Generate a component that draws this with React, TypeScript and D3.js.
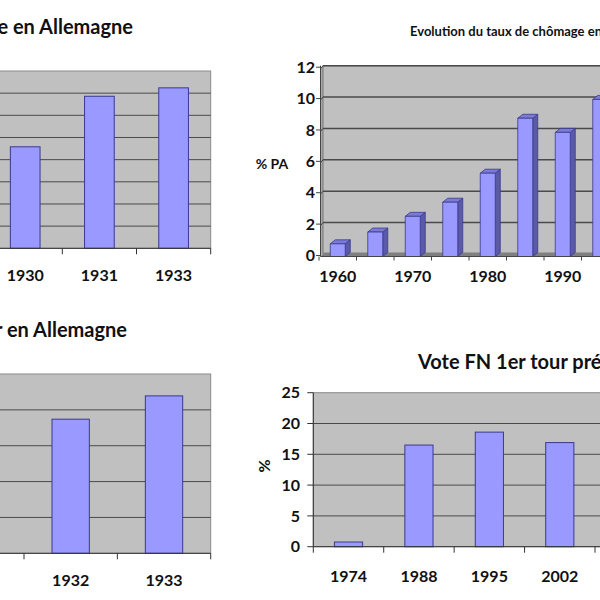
import React from "react";
import * as d3 from "d3";

// ---------- data ----------
const chomAllYears = ["1930", "1931", "1933"];
const chomAllValues = [22.9, 34.3, 36.2];
const chomAllTicks = [0, 5, 10, 15, 20, 25, 30, 35, 40];

const voteAllYears = ["1932", "1933"];
const voteAllValues = [37.4, 43.9];
const voteAllTicks = [0, 10, 20, 30, 40, 50];

const chomFrYears = ["1960", "1965", "1970", "1975", "1980", "1985", "1990", "1995"];
const chomFrValues = [0.65, 1.4, 2.4, 3.3, 5.15, 8.65, 7.75, 9.85];
const chomFrTicks = [0, 2, 4, 6, 8, 10, 12];
const chomFrLabels = ["1960", "1970", "1980", "1990"];

const fnYears = ["1974", "1988", "1995", "2002"];
const fnValues = [0.76, 16.5, 18.6, 16.9];
const fnTicks = [0, 5, 10, 15, 20, 25];

const FONT = "Lato, 'Open Sans', sans-serif";
const PLOT_BG = "#c0c0c0";
const GRID = "#4a4a4a";
const BAR = "#9999ff";
const BAR_STROKE = "#3a3a8f";
const TXT = "#111";
const LBL = 16;

type Flat = {
  cats: string[];
  vals: number[];
  ticks: number[];
  x0: number;
  x1: number;
  yTop: number;
  yBot: number;
  bgLeft: number;
  bgRight: number;
  labelY: number;
  yLabels?: { x: number };
};

function FlatChart(p: Flat) {
  const x = d3.scaleBand<string>().domain(p.cats).range([p.x0, p.x1]).padding(0);
  const maxT = p.ticks[p.ticks.length - 1];
  const y = d3.scaleLinear().domain([0, maxT]).range([p.yBot, p.yTop]);
  const bw = x.bandwidth() * 0.4;
  const bounds = d3.range(p.cats.length + 1).map((i) => p.x0 + i * x.bandwidth());
  return (
    <g>
      <rect x={p.bgLeft} y={p.yTop} width={p.bgRight - p.bgLeft} height={p.yBot - p.yTop} fill={PLOT_BG} stroke="#8a8a8a" strokeWidth={1} />
      {p.ticks.filter((t) => t > 0 && t < maxT).map((t) => (
        <line key={t} x1={p.bgLeft} x2={p.bgRight} y1={y(t)} y2={y(t)} stroke={GRID} strokeWidth={1} />
      ))}
      {p.cats.map((c, i) => (
        <rect key={c} x={x(c)! + (x.bandwidth() - bw) / 2} y={y(p.vals[i])} width={bw} height={p.yBot - y(p.vals[i])} fill={BAR} stroke={BAR_STROKE} strokeWidth={1} />
      ))}
      <line x1={p.bgLeft} x2={p.bgRight} y1={p.yBot} y2={p.yBot} stroke="#333" strokeWidth={1} />
      {bounds.map((b, i) => (
        <line key={i} x1={b} x2={b} y1={p.yBot} y2={p.yBot + 6} stroke="#333" strokeWidth={1} />
      ))}
      {p.yLabels && (
        <g>
          <line x1={p.x0} x2={p.x0} y1={p.yTop} y2={p.yBot} stroke="#333" strokeWidth={1} />
          {p.ticks.map((t) => (
            <g key={t}>
              <line x1={p.x0 - 6} x2={p.x0} y1={y(t)} y2={y(t)} stroke="#333" strokeWidth={1} />
              <text x={p.yLabels!.x} y={y(t)} dy="0.36em" textAnchor="end" fontFamily={FONT} fontWeight={700} fontSize={LBL} fill={TXT}>{t}</text>
            </g>
          ))}
        </g>
      )}
      {p.cats.map((c) => (
        <text key={c} x={x(c)! + x.bandwidth() / 2} y={p.labelY} dy="0.36em" textAnchor="middle" fontFamily={FONT} fontWeight={700} fontSize={LBL} fill={TXT}>{c}</text>
      ))}
    </g>
  );
}

function Chart3D() {
  const x0 = 319;
  const step = 37.5;
  const x = d3.scaleBand<string>().domain(chomFrYears).range([x0, x0 + step * chomFrYears.length]).padding(0);
  const y = d3.scaleLinear().domain([0, 12]).range([254, 65.7]);
  const dx = 5, dy = 4;
  const front = 256.5;
  const bw = x.bandwidth() * 0.4;
  const wallL = 323;
  const right = 620;
  return (
    <g>
      {/* side wall */}
      <polygon points={`${320.5},${y(12) + 3} ${wallL},${y(12)} ${wallL},${y(0) - 1} ${320.5},${front}`} fill="#a8a8a8" />
      <rect x={wallL} y={y(12)} width={right - wallL} height={y(0) - y(12)} fill={PLOT_BG} stroke="#777" strokeWidth={1} />
      {chomFrTicks.filter((t) => t > 0).map((t) => (
        <g key={t}>
          <line x1={wallL} x2={right} y1={y(t)} y2={y(t)} stroke={GRID} strokeWidth={1.5} />
          <line x1={320.5} x2={wallL} y1={y(t) + 3} y2={y(t)} stroke={GRID} strokeWidth={1} />
        </g>
      ))}
      {/* floor */}
      <polygon points={`${320.5},${front} ${wallL + 1},${y(0) - 1.5} ${right},${y(0) - 1.5} ${right},${front}`} fill="#808080" />
      {chomFrYears.map((c, i) => {
        const bx = x(c)! + (x.bandwidth() - bw) / 2;
        const top = y(chomFrValues[i]);
        return (
          <g key={c} stroke={BAR_STROKE} strokeWidth={0.8} strokeLinejoin="round">
            <polygon points={`${bx + bw},${top} ${bx + bw + dx},${top - dy} ${bx + bw + dx},${front - dy} ${bx + bw},${front}`} fill="#5a5aa8" />
            <polygon points={`${bx},${top} ${bx + dx},${top - dy} ${bx + bw + dx},${top - dy} ${bx + bw},${top}`} fill="#7b7bd6" />
            <rect x={bx} y={top} width={bw} height={front - top} fill={BAR} />
          </g>
        );
      })}
      {/* axes */}
      <line x1={320.5} x2={320.5} y1={y(12)} y2={front} stroke="#444" strokeWidth={1} />
      <line x1={320.5} x2={right} y1={front} y2={front} stroke="#444" strokeWidth={1} />
      {chomFrTicks.map((t) => (
        <g key={t}>
          <line x1={316} x2={320.5} y1={y(t) + 1.5} y2={y(t) + 1.5} stroke="#444" strokeWidth={1} />
          <text x={315} y={y(t) + 1.5} dy="0.36em" textAnchor="end" fontFamily={FONT} fontWeight={700} fontSize={LBL} fill={TXT}>{t}</text>
        </g>
      ))}
      {d3.range(chomFrYears.length + 1).map((i) => (
        <line key={i} x1={x0 + i * step} x2={x0 + i * step} y1={front} y2={front + 4} stroke="#444" strokeWidth={1} />
      ))}
      {chomFrYears.map((c) =>
        chomFrLabels.includes(c) ? (
          <text key={c} x={x(c)! + x.bandwidth() / 2} y={276} dy="0.36em" textAnchor="middle" fontFamily={FONT} fontWeight={700} fontSize={LBL} fill={TXT}>{c}</text>
        ) : null
      )}
      <text x={272} y={164} dy="0.36em" textAnchor="middle" fontFamily={FONT} fontWeight={700} fontSize={14} fill={TXT}>% PA</text>
      <text x={410} y={31} dy="0.36em" textAnchor="start" fontFamily={FONT} fontWeight={700} fontSize={13} fill={TXT}>Evolution du taux de chômage en France</text>
    </g>
  );
}

export default function App() {
  return (
    <svg width={600} height={600} viewBox="0 0 600 600" style={{ position: "absolute", left: 0, top: 0, background: "#fff" }}>
      <rect x={0} y={0} width={600} height={600} fill="#fff" />
      {/* top-left */}
      <text x={133} y={27} dy="0.36em" textAnchor="end" fontFamily={FONT} fontWeight={700} fontSize={20} fill={TXT}>Chômage en Allemagne</text>
      <FlatChart cats={chomAllYears} vals={chomAllValues} ticks={chomAllTicks} x0={-11.9} x1={210.7} yTop={71} yBot={248.3} bgLeft={-20} bgRight={210.7} labelY={275} />
      {/* top-right */}
      <Chart3D />
      {/* bottom-left */}
      <text x={127} y={330} dy="0.36em" textAnchor="end" fontFamily={FONT} fontWeight={700} fontSize={20} fill={TXT}>Vote Hitler en Allemagne</text>
      <FlatChart cats={voteAllYears} vals={voteAllValues} ticks={voteAllTicks} x0={24} x1={210.7} yTop={374} yBot={553.3} bgLeft={-20} bgRight={210.7} labelY={580} />
      {/* bottom-right */}
      <text x={418} y={362} dy="0.36em" textAnchor="start" fontFamily={FONT} fontWeight={700} fontSize={20} fill={TXT}>Vote FN 1er tour présidentielle</text>
      <FlatChart cats={fnYears} vals={fnValues} ticks={fnTicks} x0={313.3} x1={595} yTop={392.7} yBot={546.7} bgLeft={313.3} bgRight={620} labelY={576} yLabels={{ x: 300 }} />
      <text transform="translate(264,466) rotate(-90)" dy="0.36em" textAnchor="middle" fontFamily={FONT} fontWeight={700} fontSize={16} fill={TXT}>%</text>
    </svg>
  );
}
